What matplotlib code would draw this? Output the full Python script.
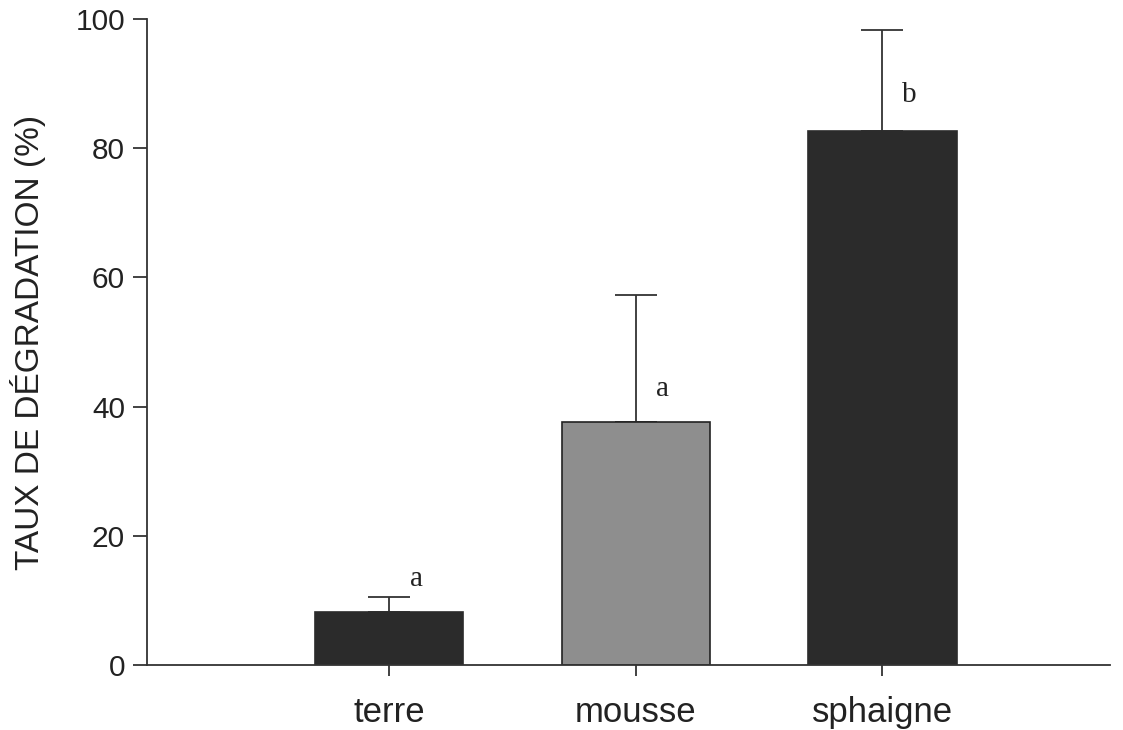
import matplotlib
matplotlib.use("Agg")
import matplotlib.pyplot as plt

categories = ["terre", "mousse", "sphaigne"]
values = [8.2, 37.6, 82.6]
errors = [2.3, 19.7, 15.7]
letters = ["a", "a", "b"]
letter_y = [13.3, 42.8, 88.3]
colors = ["#2b2b2b", "#8e8e8e", "#2b2b2b"]

plt.rcParams['font.family'] = ['Liberation Sans', 'DejaVu Sans']

fig = plt.figure(figsize=(11.23, 7.30), dpi=100)
ax = fig.add_axes([0.131, 0.089, 0.857, 0.885])

x = [0, 1.0, 2.0]
bars = ax.bar(x, values, width=0.6, color=colors, edgecolor=["#2b2b2b", "#222222", "#2b2b2b"], linewidth=1.2, zorder=2)
ax.errorbar(x, values, yerr=[[0, 0, 0], errors], fmt='none', ecolor='#333333', elinewidth=1.3, capsize=15, capthick=1.3, zorder=1)

for xi, l, ly in zip(x, letters, letter_y):
    ax.text(xi + 0.11, ly, l, fontsize=21, family=['Liberation Serif'], ha='center', va='center', color='#222222')

ax.set_xlim(-0.98, 2.92)
ax.set_ylim(0, 100)
ax.set_yticks([0, 20, 40, 60, 80, 100])
ax.set_xticks(x)
ax.set_xticklabels(categories)

for s in ['top', 'right']:
    ax.spines[s].set_visible(False)
for s in ['left', 'bottom']:
    ax.spines[s].set_linewidth(1.3)
    ax.spines[s].set_color('#333333')

ax.tick_params(axis='y', length=10, width=1.3, color='#333333', labelsize=21.5, pad=6, labelcolor='#222222')
ax.tick_params(axis='x', length=8, width=1.3, color='#333333', labelsize=25, pad=14, labelcolor='#222222')
ax.set_ylabel("TAUX DE DÉGRADATION (%)", fontsize=24, color='#222222', labelpad=21)

fig.savefig("out.png", dpi=100)
